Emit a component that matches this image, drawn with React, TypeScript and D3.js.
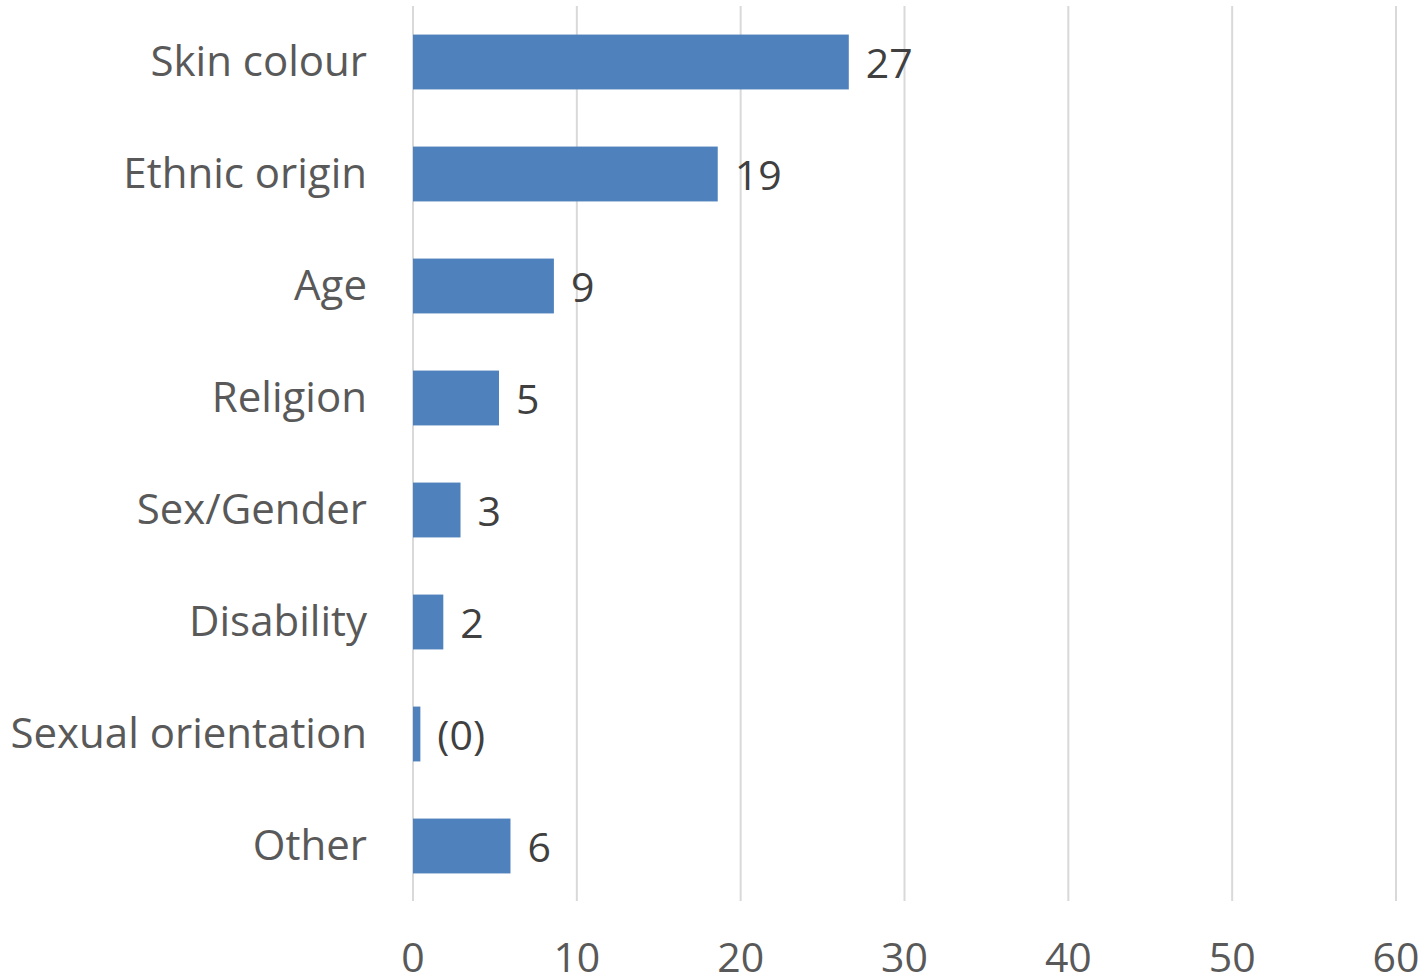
import React from "react";
import * as d3 from "d3";

const categories = ["Skin colour", "Ethnic origin", "Age", "Religion", "Sex/Gender", "Disability", "Sexual orientation", "Other"];
const values = [26.6, 18.6, 8.6, 5.25, 2.9, 1.85, 0.45, 5.95];
const valueLabels = ["27", "19", "9", "5", "3", "2", "(0)", "6"];
const ticks = [0, 10, 20, 30, 40, 50, 60];

const W = 1419;
const H = 974;
const FONT = "'Open Sans', sans-serif";

export default function App() {
  const x = d3.scaleLinear().domain([0, 60]).range([413, 1396]);
  const y = d3.scaleBand<string>().domain(categories).range([6, 902]).paddingInner(0.51).paddingOuter(0.255);
  return (
    <svg width={W} height={H} style={{ position: "absolute", left: 0, top: 0, background: "#fff" }}>
      {ticks.map((t) => (
        <line key={"g" + t} x1={x(t)} x2={x(t)} y1={6} y2={901} stroke="#d9d9d9" strokeWidth={2} />
      ))}
      {categories.map((c, i) => (
        <g key={c}>
          <rect x={x(0)} y={y(c)} width={x(values[i]) - x(0)} height={y.bandwidth()} fill="#4F81BD" />
          <text x={367} y={(y(c) as number) + y.bandwidth() / 2} dy="0.33em" textAnchor="end" fontFamily={FONT} fontSize={42} fill="#595959">{c}</text>
          <text x={x(values[i]) + 17} y={(y(c) as number) + y.bandwidth() / 2} dy="0.4em" textAnchor="start" fontFamily={FONT} fontSize={41} fill="#404040">{valueLabels[i]}</text>
        </g>
      ))}
      {ticks.map((t) => (
        <text key={"t" + t} x={x(t)} y={972} textAnchor="middle" fontFamily={FONT} fontSize={41} fill="#595959">{t}</text>
      ))}
    </svg>
  );
}
